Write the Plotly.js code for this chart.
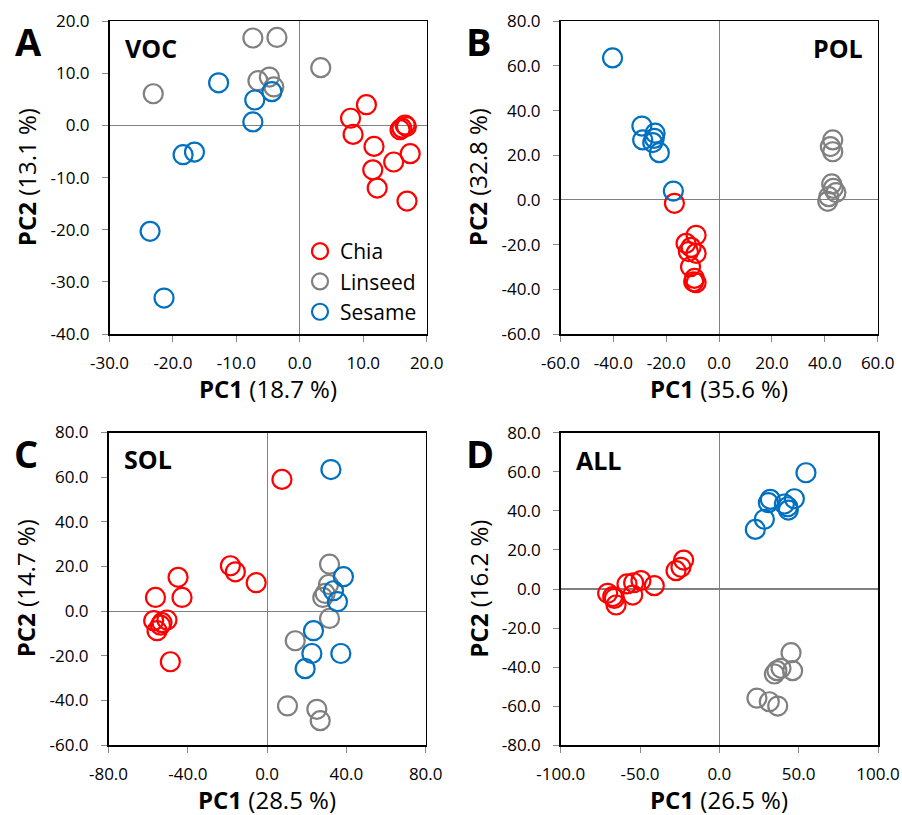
<!DOCTYPE html>
<html>
<head>
<meta charset="utf-8">
<script src="https://cdn.plot.ly/plotly-3.0.1.min.js"></script>
<style>html,body{margin:0;padding:0;background:#fff;}#chart{width:902px;height:815px;}</style>
</head>
<body>
<div id="chart"></div>
<script>
// ---------- DATA ----------
const groups = ["Chia", "Linseed", "Sesame"];
const groupColors = ["#FF0000", "#808080", "#0070C0"];

// Panel A : VOC
const vocChiaX = [8.0, 10.5, 8.4, 11.7, 11.5, 12.2, 14.8, 17.4, 16.9, 16.1, 16.6, 16.8, 15.8];
const vocChiaY = [1.4, 4.0, -1.7, -4.0, -8.5, -12.0, -7.0, -5.4, -14.5, -0.5, 0.1, -0.2, -0.8];
const vocLinseedX = [-7.4, -3.6, -23.1, 3.3, -6.6, -4.8, -4.1];
const vocLinseedY = [16.8, 16.9, 6.1, 11.1, 8.6, 9.3, 7.4];
const vocSesameX = [-12.8, -7.1, -7.4, -4.4, -18.4, -16.6, -23.6, -21.4];
const vocSesameY = [8.2, 4.9, 0.7, 6.5, -5.6, -5.1, -20.3, -33.1];

// Panel B : POL
const polChiaX = [-16.9, -8.7, -12.5, -11.6, -8.7, -10.8, -9.3, -8.7, -9.6, -10.6];
const polChiaY = [-1.5, -15.8, -19.4, -23.1, -23.9, -29.9, -35.1, -37.0, -36.6, -21.2];
const polLinseedX = [43.0, 42.1, 43.0, 42.6, 43.2, 44.2, 41.1, 41.5];
const polLinseedY = [26.9, 23.9, 21.6, 7.2, 5.2, 3.3, -0.6, 1.5];
const polSesameX = [-40.3, -29.2, -28.9, -24.2, -24.5, -25.1, -22.6, -17.3];
const polSesameY = [63.6, 33.1, 26.9, 29.9, 27.6, 25.7, 21.2, 4.0];

// Panel C : SOL
const solChiaX = [7.5, -18.5, -16.0, -5.5, -44.9, -42.9, -56.3, -57.2, -55.5, -53.0, -50.5, -53.8, -48.8];
const solChiaY = [59.0, 20.3, 17.6, 12.7, 15.1, 6.1, 6.1, -4.3, -8.8, -5.2, -4.0, -6.3, -22.7];
const solLinseedX = [31.5, 31.0, 28.1, 29.3, 31.5, 14.2, 10.3, 25.1, 26.8];
const solLinseedY = [21.0, 11.9, 6.1, 7.9, -3.3, -13.3, -42.5, -44.0, -49.1];
const solSesameX = [32.2, 38.5, 33.5, 35.5, 23.4, 22.6, 19.2, 37.2];
const solSesameY = [63.4, 15.4, 9.1, 4.2, -8.8, -19.0, -25.8, -19.0];

// Panel D : ALL
const allChiaX = [-22.5, -24.2, -27.3, -41.0, -49.4, -54.0, -58.2, -54.6, -70.4, -67.2, -65.1, -66.2];
const allChiaY = [14.8, 11.1, 9.4, 1.7, 4.3, 3.2, 2.6, -3.1, -2.2, -3.9, -8.2, -4.8];
const allLinseedX = [45.2, 46.2, 36.3, 34.7, 38.9, 23.7, 31.5, 36.8];
const allLinseedY = [-32.6, -41.8, -41.8, -43.5, -40.6, -55.9, -57.7, -59.9];
const allSesameX = [54.6, 32.1, 30.9, 47.3, 43.1, 41.0, 28.4, 22.7, 43.5];
const allSesameY = [59.5, 45.9, 44.2, 46.2, 42.1, 43.5, 35.7, 30.5, 40.4];

// Axis ticks
const ticksAx = [-30, -20, -10, 0, 10, 20];
const ticksAy = [-40, -30, -20, -10, 0, 10, 20];
const ticksBx = [-60, -40, -20, 0, 20, 40, 60];
const ticksBy = [-60, -40, -20, 0, 20, 40, 60, 80];
const ticksCx = [-80, -40, 0, 40, 80];
const ticksCy = [-60, -40, -20, 0, 20, 40, 60, 80];
const ticksDx = [-100, -50, 0, 50, 100];
const ticksDy = [-80, -60, -40, -20, 0, 20, 40, 60, 80];

// Labels
const panelLetters = ["A", "B", "C", "D"];
const panelNames = ["VOC", "POL", "SOL", "ALL"];
const pc1Labels = ["18.7 %", "35.6 %", "28.5 %", "26.5 %"];
const pc2Labels = ["13.1 %", "32.8 %", "14.7 %", "16.2 %"];

// ---------- BUILD ----------
const FONT = "Open Sans, Noto Sans, sans-serif";
const panels = [
  {xs: [vocChiaX, vocLinseedX, vocSesameX], ys: [vocChiaY, vocLinseedY, vocSesameY], tx: ticksAx, ty: ticksAy},
  {xs: [polChiaX, polLinseedX, polSesameX], ys: [polChiaY, polLinseedY, polSesameY], tx: ticksBx, ty: ticksBy},
  {xs: [solChiaX, solLinseedX, solSesameX], ys: [solChiaY, solLinseedY, solSesameY], tx: ticksCx, ty: ticksCy},
  {xs: [allChiaX, allLinseedX, allSesameX], ys: [allChiaY, allLinseedY, allSesameY], tx: ticksDx, ty: ticksDy}
];

// pixel geometry of plot areas [left, right, top, bottom]
const boxes = [
  [109.5, 426.7, 21.3, 334],
  [560.5, 877.7, 21.3, 334],
  [108.5, 425.7, 432.5, 745],
  [560.7, 878, 432.7, 745.3]
];
const W = 902, H = 815;
const px = v => v / W;
const py = v => 1 - v / H;

const traces = [];
const layout = {
  width: W, height: H,
  margin: {l: 0, r: 0, t: 0, b: 0},
  paper_bgcolor: "#fff", plot_bgcolor: "#fff",
  font: {family: FONT, color: "#000", size: 17},
  showlegend: true,
  legend: {
    x: px(300), y: py(231), xanchor: "left", yanchor: "top",
    bgcolor: "rgba(0,0,0,0)", borderwidth: 0, tracegroupgap: 0,
    font: {family: FONT, size: 21, color: "#000"},
    itemsizing: "trace"
  },
  annotations: []
};

panels.forEach((p, i) => {
  const n = i === 0 ? "" : String(i + 1);
  for (let g = 0; g < 3; g++) {
    traces.push({
      type: "scatter", mode: "markers",
      x: p.xs[g], y: p.ys[g],
      name: groups[g],
      showlegend: i === 0,
      xaxis: "x" + n, yaxis: "y" + n,
      marker: {symbol: "circle-open", size: 19, color: groupColors[g], line: {width: 2.2, color: groupColors[g]}},
      hoverinfo: "x+y+name"
    });
  }
  const b = boxes[i];
  const common = {
    showgrid: false, showline: true, mirror: true, linecolor: "#000", linewidth: 1.5,
    ticks: "outside", ticklen: 6, tickwidth: 1, tickcolor: "#888",
    zeroline: true, zerolinecolor: "#808080",
    tickfont: {family: FONT, size: 17, color: "#000"},
    fixedrange: true
  };
  layout["xaxis" + n] = Object.assign({}, common, {
    domain: [px(b[0]), px(b[1])], anchor: "y" + n,
    range: [p.tx[0], p.tx[p.tx.length - 1]],
    tickvals: p.tx, ticktext: p.tx.map(v => v.toFixed(1)),
    zerolinewidth: 1, ticklabelstandoff: 7
  });
  layout["yaxis" + n] = Object.assign({}, common, {
    domain: [py(b[3]), py(b[2])], anchor: "x" + n,
    range: [p.ty[0], p.ty[p.ty.length - 1]],
    tickvals: p.ty, ticktext: p.ty.map(v => v.toFixed(1)),
    zerolinewidth: (i === 0 || i === 3) ? 1.6 : 1, ticklabelstandoff: 9
  });
  const cx = (b[0] + b[1]) / 2, cy = (b[2] + b[3]) / 2;
  // x axis title
  layout.annotations.push({
    xref: "paper", yref: "paper", x: px(cx), y: py(b[3] + 54), xanchor: "center", yanchor: "middle",
    text: "<b>PC1</b> (" + pc1Labels[i] + ")", showarrow: false,
    font: {family: FONT, size: 24, color: "#000"}
  });
  // y axis title
  layout.annotations.push({
    xref: "paper", yref: "paper", x: px(b[0] - 83), y: py(cy), xanchor: "center", yanchor: "middle",
    text: "<b>PC2</b> (" + pc2Labels[i] + ")", showarrow: false, textangle: -90,
    font: {family: FONT, size: 24, color: "#000"}
  });
  // panel letter
  layout.annotations.push({
    xref: "paper", yref: "paper", x: px(b[0] - 97), y: py(b[2] + 20), xanchor: "left", yanchor: "middle",
    text: "<b>" + panelLetters[i] + "</b>", showarrow: false,
    font: {family: FONT, size: 38, color: "#000"}
  });
  // panel name
  const right = i === 1;
  layout.annotations.push({
    xref: "paper", yref: "paper",
    x: right ? px(b[1] - 13) : px(b[0] + 13), y: py(b[2] + 27),
    xanchor: right ? "right" : "left", yanchor: "middle",
    text: "<b>" + panelNames[i] + "</b>", showarrow: false,
    font: {family: FONT, size: 25, color: "#000"}
  });
});

Plotly.newPlot("chart", traces, layout, {displayModeBar: false, staticPlot: true});
</script>
</body>
</html>
